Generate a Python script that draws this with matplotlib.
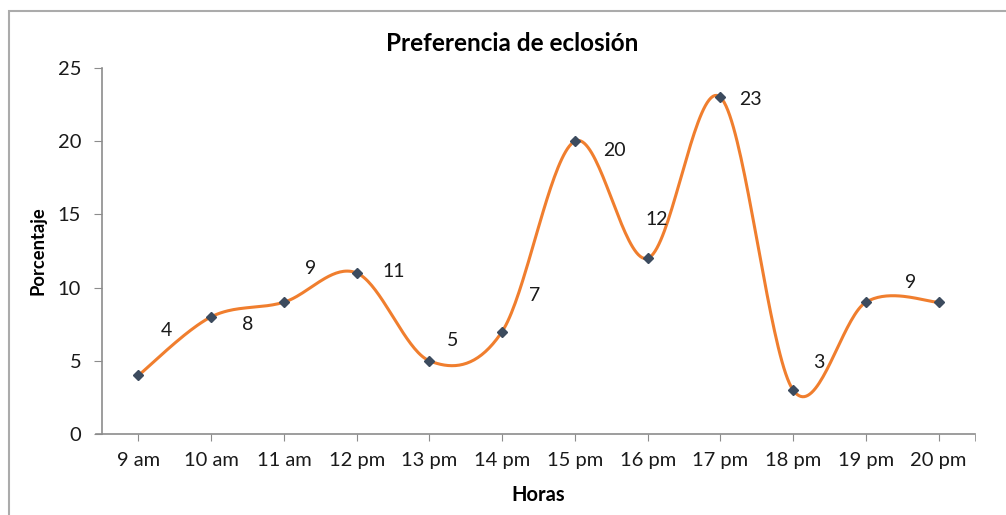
import numpy as np
import matplotlib.pyplot as plt
from matplotlib.patches import Rectangle

plt.rcParams['font.family'] = ['Lato', 'DejaVu Sans']

horas = ['9 am', '10 am', '11 am', '12 pm', '13 pm', '14 pm',
         '15 pm', '16 pm', '17 pm', '18 pm', '19 pm', '20 pm']
porcentaje = [4, 8, 9, 11, 5, 7, 20, 12, 23, 3, 9, 9]

# where each value label sits relative to its point (pixels, y up); None = no label
label_offsets = [(28, 45), (37, -8), (27, 34), (37, 1), (23, 20), (32, 36),
                 (40, -9), (9, 39), (30, -2), (26, 28), (45, 20), None]

line_color = '#F07E2E'
marker_color = '#3C4B5E'
axis_color = '#8C8C8C'
text_color = '#1a1a1a'


def catmull_rom(x, y, n=40):
    """Smooth curve through the points, like a spreadsheet 'smoothed line'."""
    px = np.concatenate([[x[0]], x, [x[-1]]]).astype(float)
    py = np.concatenate([[y[0]], y, [y[-1]]]).astype(float)
    xs, ys = [], []
    t = np.linspace(0, 1, n)
    for i in range(1, len(px) - 2):
        for p, out in ((px, xs), (py, ys)):
            p0, p1, p2, p3 = p[i - 1], p[i], p[i + 1], p[i + 2]
            out.append(0.5 * ((2 * p1) + (-p0 + p2) * t
                              + (2 * p0 - 5 * p1 + 4 * p2 - p3) * t ** 2
                              + (-p0 + 3 * p1 - 3 * p2 + p3) * t ** 3))
    return np.concatenate(xs), np.concatenate(ys)


fig = plt.figure(figsize=(10.06, 5.15), dpi=100)
ax = fig.add_axes([0.1014, 0.1573, 0.8678, 0.7107])

x = np.arange(len(horas))
sx, sy = catmull_rom(x, porcentaje)
ax.plot(sx, sy, color=line_color, linewidth=2.2, solid_capstyle='round', zorder=2)
ax.plot(x, porcentaje, linestyle='none', marker='D', markersize=5.5,
        color=marker_color, zorder=3)

for xi, val, off in zip(x, porcentaje, label_offsets):
    if off is None:
        continue
    ax.annotate(str(val), (xi, val), xytext=off, textcoords='offset pixels',
                ha='center', va='center', fontsize=14, color=text_color)

ax.set_xlim(-0.5, 11.5)
ax.set_ylim(0, 25)
ax.set_yticks(range(0, 26, 5))
ax.set_xticks(x)
ax.set_xticks([11.5], minor=True)
ax.set_xticklabels(horas, fontsize=14.5, color=text_color)
ax.tick_params(axis='y', labelsize=14.5, labelcolor=text_color, length=6,
               color=axis_color, pad=9)
ax.tick_params(axis='x', which='both', length=5, color=axis_color, pad=8)

for side in ['top', 'right']:
    ax.spines[side].set_visible(False)
for side in ['left', 'bottom']:
    ax.spines[side].set_color(axis_color)
    ax.spines[side].set_linewidth(1.2)
ax.spines['bottom'].set_bounds(-0.58, 11.5)

ax.set_ylabel('Porcentaje', fontsize=13.2, fontweight='bold')
ax.yaxis.set_label_coords(-0.064, 0.5)
ax.set_xlabel('Horas', fontsize=14.5, fontweight='bold')
ax.xaxis.set_label_coords(0.5, -0.14)
fig.text(0.509, 0.916, 'Preferencia de eclosión', ha='center', va='center',
         fontsize=17.5, fontweight='bold')

# chart frame
fig.patches.append(Rectangle((9 / 1006, -0.1), 1.2, 1 - 11 / 515 + 0.1,
                             transform=fig.transFigure, fill=False,
                             edgecolor='#ABABAB', linewidth=1.5))

fig.savefig('out.png', dpi=100)
